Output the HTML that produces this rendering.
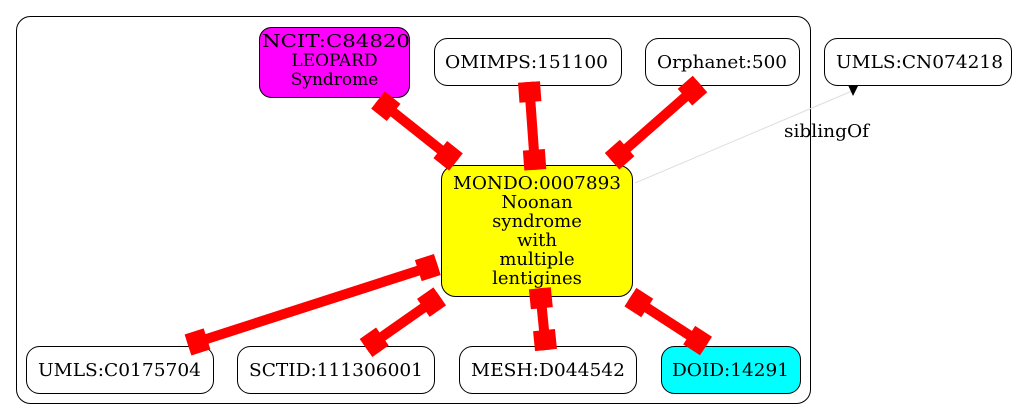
<!DOCTYPE html>
<html><head><meta charset="utf-8"><style>
html,body{margin:0;padding:0;background:#fff;}
svg{display:block;}
text{font-family:"DejaVu Serif",serif;font-size:18px;fill:#000;}
</style></head><body>
<svg width="1021" height="420" viewBox="0 0 1021 420" xmlns="http://www.w3.org/2000/svg">
<rect x="16.5" y="16.5" width="794" height="387" rx="14" fill="none" stroke="#000" stroke-width="1"/>

<line x1="635" y1="183" x2="852" y2="91" stroke="#ddd" stroke-width="1"/>
<polygon points="858,86 848,85 853,96" fill="#000"/>
<text x="784" y="137" textLength="85" lengthAdjust="spacingAndGlyphs">siblingOf</text>

<rect x="259.5" y="27.5" width="150" height="70" rx="12" fill="#f0f" stroke="#000"/>
<text x="262" y="47" textLength="148" lengthAdjust="spacingAndGlyphs">NCIT:C84820</text>
<text x="334.5" y="66" text-anchor="middle" style="font-size:17px">LEOPARD</text>
<text x="334.5" y="85" text-anchor="middle" style="font-size:17px">Syndrome</text>

<rect x="434.5" y="38.5" width="187" height="47" rx="13" fill="#fff" stroke="#000"/>
<text x="445" y="68" textLength="163" lengthAdjust="spacingAndGlyphs">OMIMPS:151100</text>

<rect x="645.5" y="38.5" width="154" height="47" rx="13" fill="#fff" stroke="#000"/>
<text x="657" y="68" textLength="130" lengthAdjust="spacingAndGlyphs">Orphanet:500</text>

<rect x="824.5" y="38.5" width="187" height="47" rx="13" fill="#fff" stroke="#000"/>
<text x="836" y="68" textLength="167" lengthAdjust="spacingAndGlyphs">UMLS:CN074218</text>

<rect x="441.5" y="165.5" width="191" height="131" rx="14" fill="#ff0" stroke="#000"/>
<text x="453" y="189" textLength="168" lengthAdjust="spacingAndGlyphs">MONDO:0007893</text>
<g text-anchor="middle" style="font-size:17px">
<text x="537" y="208">Noonan</text>
<text x="537" y="227">syndrome</text>
<text x="537" y="246">with</text>
<text x="537" y="265">multiple</text>
<text x="537" y="284">lentigines</text>
</g>

<rect x="26.5" y="346.5" width="187" height="47" rx="13" fill="#fff" stroke="#000"/>
<text x="38" y="376" textLength="163" lengthAdjust="spacingAndGlyphs">UMLS:C0175704</text>

<rect x="237.5" y="346.5" width="197" height="47" rx="13" fill="#fff" stroke="#000"/>
<text x="249" y="376" textLength="174" lengthAdjust="spacingAndGlyphs">SCTID:111306001</text>

<rect x="459.5" y="346.5" width="177" height="47" rx="13" fill="#fff" stroke="#000"/>
<text x="471" y="376" textLength="154" lengthAdjust="spacingAndGlyphs">MESH:D044542</text>

<rect x="661.5" y="346.5" width="139" height="47" rx="13" fill="#0ff" stroke="#000"/>
<text x="672" y="376" textLength="117" lengthAdjust="spacingAndGlyphs">DOID:14291</text>

<g fill="#f00">
<g transform="translate(378,100) rotate(38.5)"><rect x="0" y="-5" width="99.6" height="10"/><rect x="0" y="-11" width="20" height="22"/><rect x="79.6" y="-11" width="20" height="22"/></g>
<g transform="translate(529,82) rotate(85.9)"><rect x="0" y="-5" width="88" height="10"/><rect x="0" y="-11" width="20" height="22"/><rect x="68" y="-11" width="20" height="22"/></g>
<g transform="translate(700,84) rotate(138.7)"><rect x="0" y="-5" width="117" height="10"/><rect x="0" y="-11" width="20" height="22"/><rect x="97" y="-11" width="20" height="22"/></g>
<g transform="translate(188,345) rotate(-17.9)"><rect x="0" y="-5" width="262" height="10"/><rect x="0" y="-11" width="20" height="22"/><rect x="242" y="-11" width="20" height="22"/></g>
<g transform="translate(366,348) rotate(-35)"><rect x="0" y="-5" width="90" height="10"/><rect x="0" y="-11" width="20" height="22"/><rect x="70" y="-11" width="20" height="22"/></g>
<g transform="translate(546,350) rotate(-95.7)"><rect x="0" y="-5" width="62" height="10"/><rect x="0" y="-11" width="20" height="22"/><rect x="42" y="-11" width="20" height="22"/></g>
<g transform="translate(706,346) rotate(-147.1)"><rect x="0" y="-5" width="90" height="10"/><rect x="0" y="-11" width="20" height="22"/><rect x="70" y="-11" width="20" height="22"/></g>
</g>
</svg>
</body></html>
